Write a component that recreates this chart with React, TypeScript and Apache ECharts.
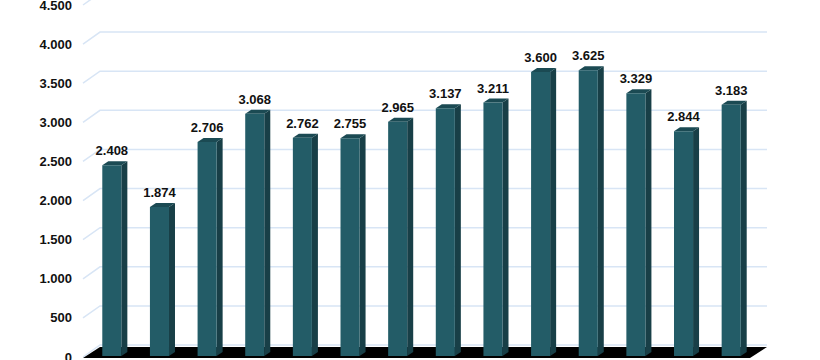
import React, { useEffect, useRef } from "react";
import * as echarts from "echarts";

const categories = ["1", "2", "3", "4", "5", "6", "7", "8", "9", "10", "11", "12", "13", "14"];
const values = [2408, 1874, 2706, 3068, 2762, 2755, 2965, 3137, 3211, 3600, 3625, 3329, 2844, 3183];
const ticks = [0, 500, 1000, 1500, 2000, 2500, 3000, 3500, 4000, 4500];

const DX = 17;
const DY = 12;

const fmt = (v: number) => String(v).replace(/\B(?=(\d{3})+(?!\d))/g, ".");

export default function App() {
  const ref = useRef<HTMLDivElement>(null);
  useEffect(() => {
    if (!ref.current) return;
    const chart = echarts.init(ref.current, null, { renderer: "svg" });
    chart.setOption({
      animation: false,
      backgroundColor: "#ffffff",
      grid: { left: 83, right: 70, top: 5, bottom: 3, outerBoundsMode: "none", containLabel: false },
      xAxis: {
        type: "category",
        data: categories,
        show: false,
      },
      yAxis: {
        type: "value",
        min: 0,
        max: 4500,
        interval: 500,
        axisLine: { show: false },
        axisTick: { show: false },
        splitLine: { show: false },
        axisLabel: {
          margin: 11,
          color: "#111",
          fontFamily: "Liberation Sans, Arial, sans-serif",
          fontWeight: "bold",
          fontSize: 13,
          formatter: (v: number) => fmt(v),
        },
      },
      series: [
        {
          type: "custom",
          clip: false,
          silent: true,
          z: 1,
          data: ticks.map((t) => [0, t]),
          renderItem: (params: any, api: any) => {
            const cs = params.coordSys;
            const v = api.value(1);
            const y = api.coord([0, v])[1];
            const x0 = cs.x;
            const W = cs.width;
            const children: any[] = [
              {
                type: "polyline",
                shape: { points: [[x0, y], [x0 + DX, y - DY], [x0 + W + DX, y - DY]] },
                style: { stroke: "#d8e5f5", lineWidth: 1.5, fill: null },
              },
            ];
            if (v === 0) {
              children.push({
                type: "polygon",
                shape: {
                  points: [
                    [x0, y + 1],
                    [x0 + DX, y - DY + 2],
                    [x0 + W + DX, y - DY + 2],
                    [x0 + W, y + 1],
                  ],
                },
                style: { fill: "#000000" },
              });
            }
            return { type: "group", children };
          },
        },
        {
          type: "custom",
          clip: false,
          z: 2,
          data: values.map((v, i) => [i, v]),
          renderItem: (params: any, api: any) => {
            const idx = api.value(0);
            const val = api.value(1);
            const top = api.coord([idx, val]);
            const base = api.coord([idx, 0]);
            const catW = api.size([1, 0])[0];
            const w = catW * 0.4;
            const fdx = 5;
            const fdy = 3.3;
            const sdx = 6;
            const sdy = 4;
            const fl = top[0] - w / 2 + fdx;
            const fr = fl + w;
            const yt = top[1] - fdy;
            const yb = base[1] - 1;
            return {
              type: "group",
              children: [
                {
                  type: "polygon",
                  shape: { points: [[fr, yt], [fr + sdx, yt - sdy], [fr + sdx, yb - sdy], [fr, yb]] },
                  style: { fill: "#183f47" },
                },
                {
                  type: "polygon",
                  shape: { points: [[fl, yt], [fl + sdx, yt - sdy], [fr + sdx, yt - sdy], [fr, yt]] },
                  style: { fill: "#1b4a53" },
                },
                {
                  type: "rect",
                  shape: { x: fl, y: yt, width: w, height: yb - yt },
                  style: { fill: "#235c67" },
                },
                {
                  type: "text",
                  x: fl + w / 2,
                  y: yt - sdy - 4,
                  style: {
                    text: fmt(val),
                    fill: "#111",
                    font: "bold 13px 'Liberation Sans', Arial, sans-serif",
                    textAlign: "center",
                    textVerticalAlign: "bottom",
                  },
                },
              ],
            };
          },
        },
      ],
    });
    return () => chart.dispose();
  }, []);
  return (
    <div
      ref={ref}
      style={{ position: "absolute", left: 0, top: 0, width: 820, height: 360 }}
    />
  );
}
